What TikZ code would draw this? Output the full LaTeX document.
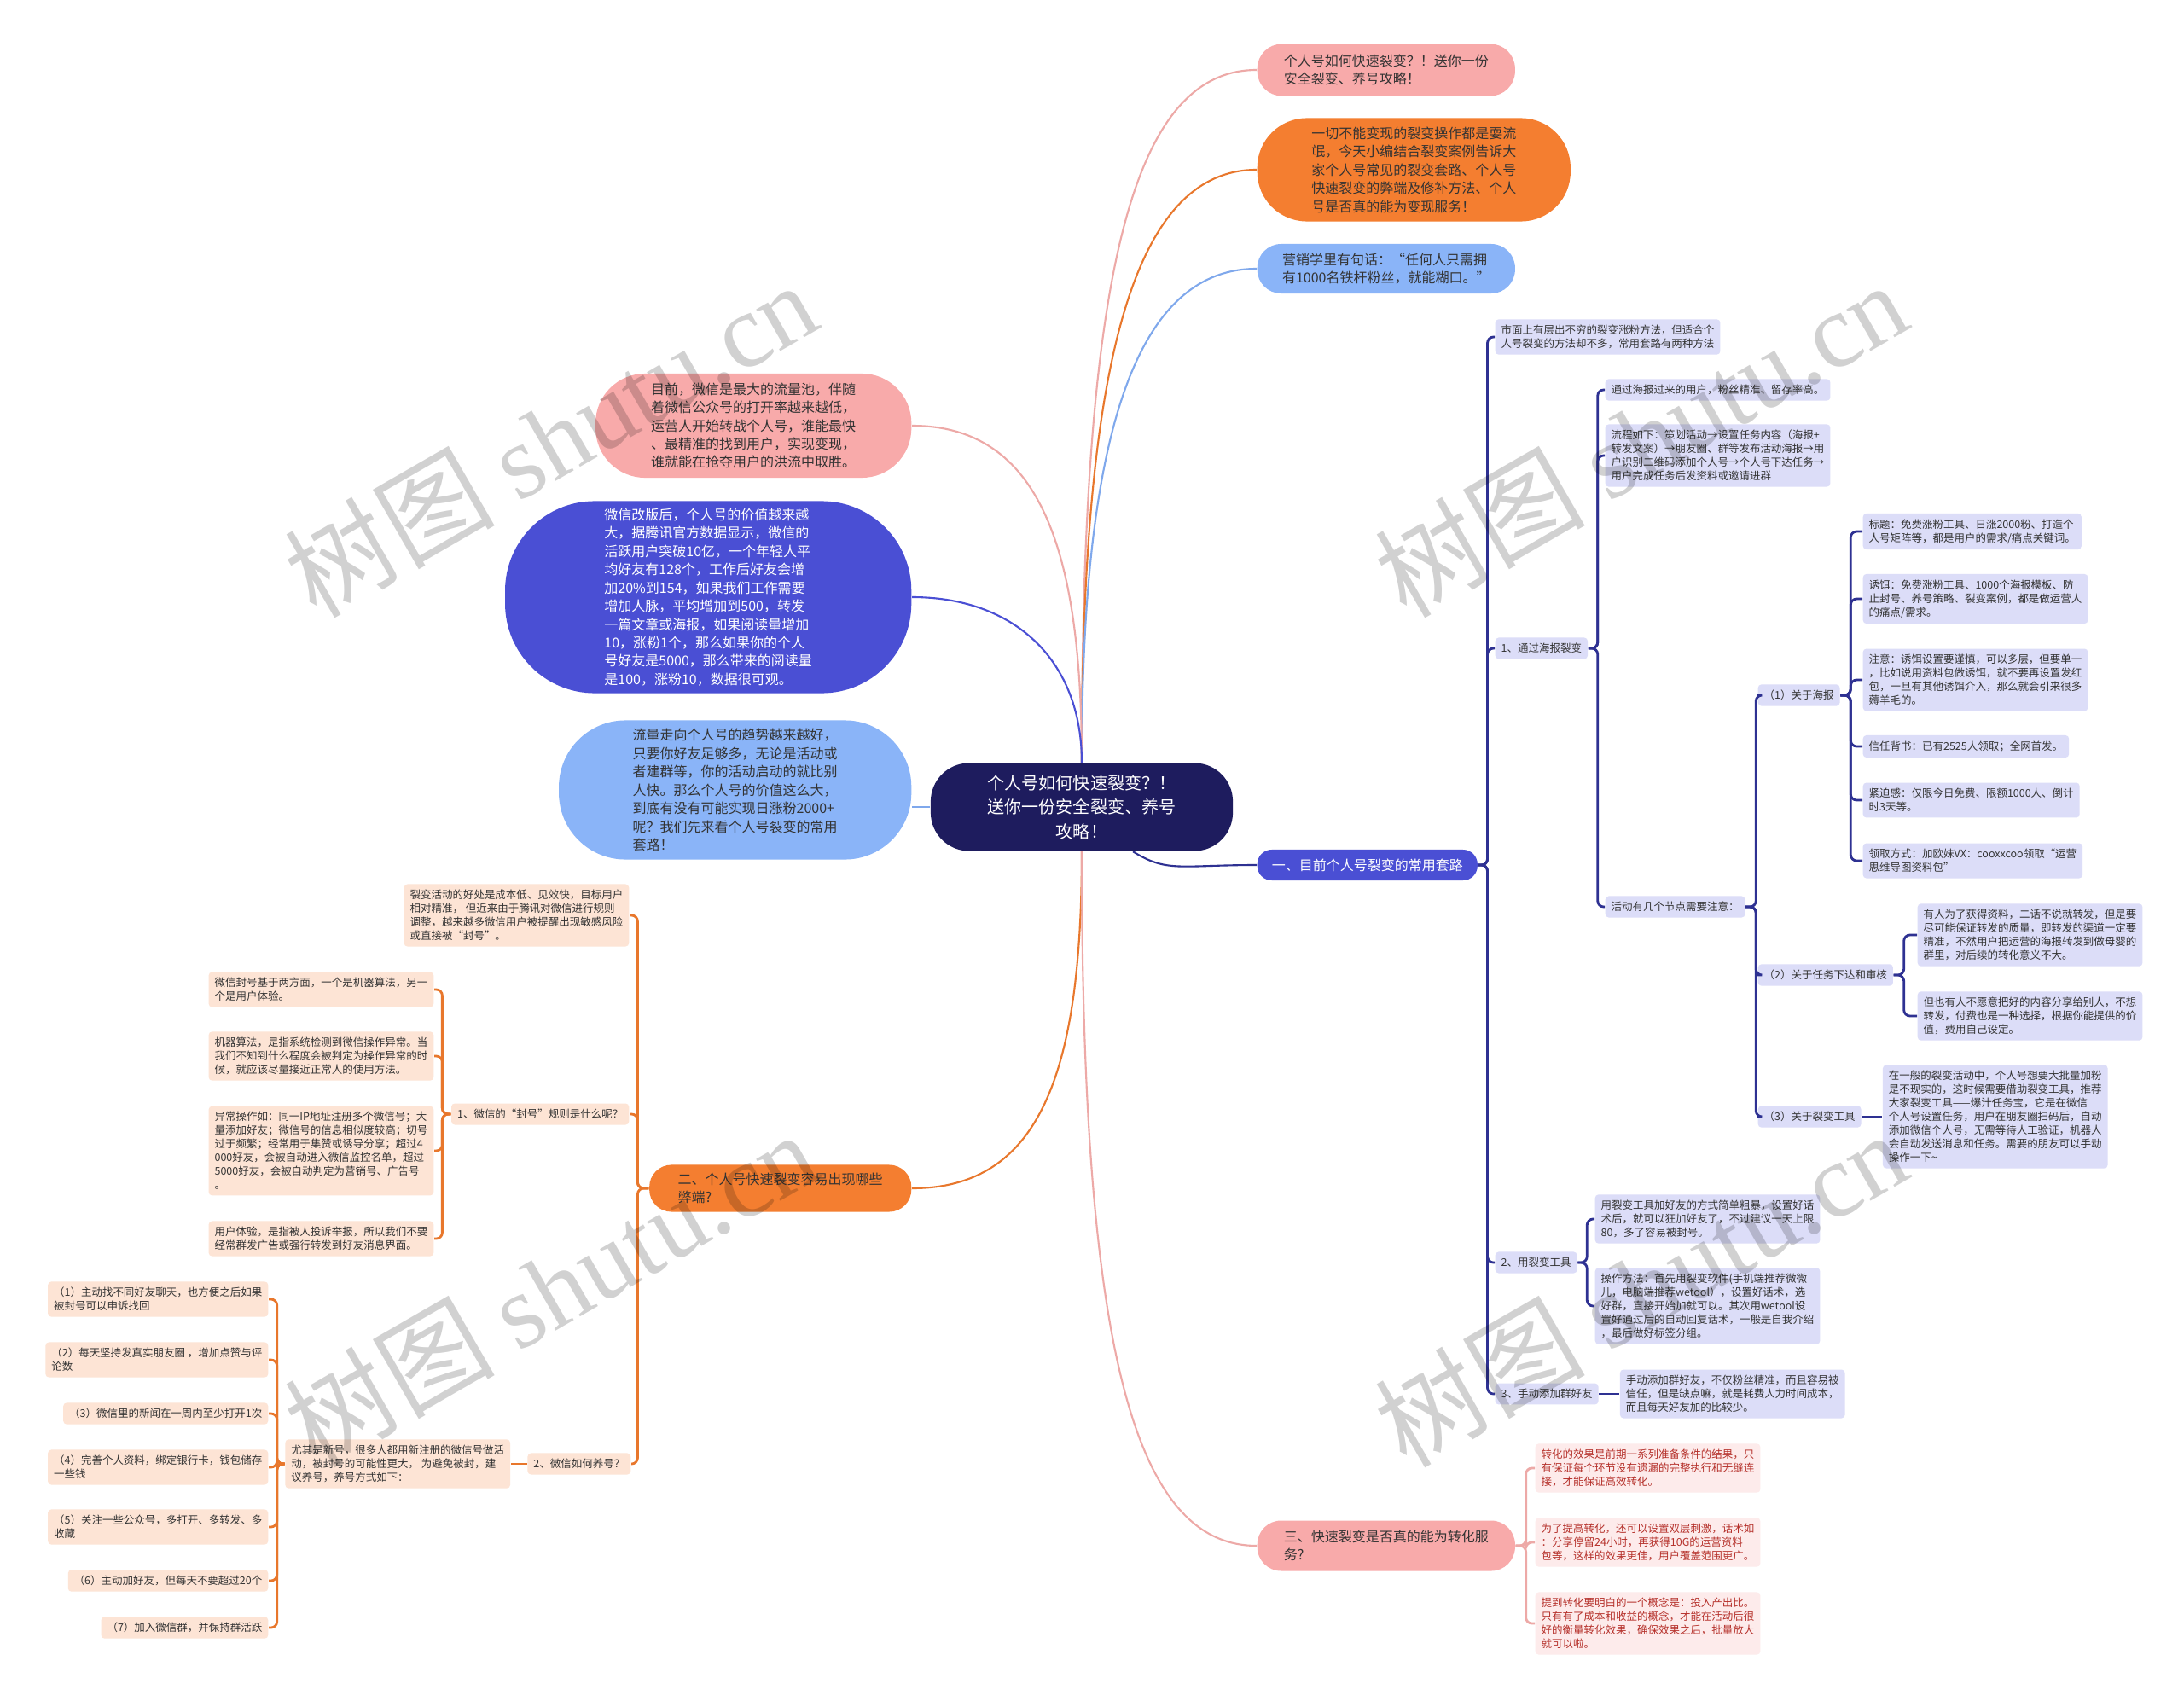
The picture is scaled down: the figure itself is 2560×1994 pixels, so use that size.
\documentclass[tikz,border=0pt]{standalone}
\usepackage{fontspec}
\setmainfont{Noto Sans CJK SC}
\newfontfamily\wmfont{Liberation Serif}
\usetikzlibrary{positioning}
\definecolor{Navy}{HTML}{1E1C5E}
\definecolor{Indigo}{HTML}{4A4FD4}
\definecolor{Lilac}{HTML}{DCDDF8}
\definecolor{LinkNavy}{HTML}{2E3192}
\definecolor{Orange}{HTML}{F47E30}
\definecolor{OrangeLink}{HTML}{E8772C}
\definecolor{Peach}{HTML}{FDE4D5}
\definecolor{Rose}{HTML}{F8AAAA}
\definecolor{RoseLink}{HTML}{EDA9A7}
\definecolor{Blush}{HTML}{FDEBEB}
\definecolor{Crimson}{HTML}{B5302A}
\definecolor{Sky}{HTML}{8AB4F8}
\definecolor{SkyLink}{HTML}{7FA8EC}
\definecolor{Ink}{HTML}{333333}

\begin{document}
\begin{tikzpicture}[
  x=0.01cm, y=-0.01cm,
  hub/.style={fill=Navy,text=white,rounded corners=0.45cm,align=center,minimum width=3.54cm,minimum height=1.03cm,font=\fontsize{5.7pt}{8.1pt}\selectfont},
  bubble/.style={text=Ink,align=left,inner sep=0pt,font=\fontsize{4.55pt}{6.1pt}\selectfont},
  leaf/.style={fill=Lilac,text=Ink,rounded corners=0.04cm,align=left,inner xsep=0.07cm,inner ysep=0.067cm,font=\fontsize{3.55pt}{4.55pt}\selectfont},
  leafo/.style={leaf,fill=Peach},
  leafp/.style={leaf,fill=Blush,text=Crimson},
  curve/.style={line width=0.6pt},
  link/.style={draw=LinkNavy,line width=0.8pt,rounded corners=2pt},
  linko/.style={link,draw=OrangeLink},
  linkp/.style={link,draw=RoseLink},
  stamp/.style={text=black,text opacity=0.18,rotate=30,font=\fontsize{35pt}{35pt}\selectfont}
]
\path[fill=white,use as bounding box] (0,0) rectangle (2560,1994);

\node[hub] (C) at (1268,946) {个人号如何快速裂变？！\\送你一份安全裂变、养号\\攻略！};

\node[bubble,fill=Rose,rounded corners=0.29cm,minimum width=3.02cm,minimum height=0.61cm,anchor=west] (T1) at (1473,82) {个人号如何快速裂变？！送你一份\\安全裂变、养号攻略！};
\node[bubble,fill=Orange,rounded corners=0.58cm,minimum width=3.67cm,minimum height=1.21cm,anchor=west] (T2) at (1473,199) {一切不能变现的裂变操作都是耍流\\氓，今天小编结合裂变案例告诉大\\家个人号常见的裂变套路、个人号\\快速裂变的弊端及修补方法、个人\\号是否真的能为变现服务！};
\node[bubble,fill=Sky,rounded corners=0.28cm,minimum width=3.02cm,minimum height=0.58cm,anchor=west] (T3) at (1473,315) {营销学里有句话：“任何人只需拥\\有1000名铁杆粉丝，就能糊口。”};

\node[bubble,fill=Rose,rounded corners=0.58cm,minimum width=3.70cm,minimum height=1.22cm,anchor=east] (L1) at (1069,499) {目前，微信是最大的流量池，伴随\\着微信公众号的打开率越来越低，\\运营人开始转战个人号，谁能最快\\、最精准的找到用户，实现变现，\\谁就能在抢夺用户的洪流中取胜。};
\node[bubble,fill=Indigo,text=white,rounded corners=1.05cm,minimum width=4.76cm,minimum height=2.25cm,anchor=east] (L2) at (1069,700) {微信改版后，个人号的价值越来越\\大，据腾讯官方数据显示，微信的\\活跃用户突破10亿，一个年轻人平\\均好友有128个，工作后好友会增\\加20\%到154，如果我们工作需要\\增加人脉，平均增加到500，转发\\一篇文章或海报，如果阅读量增加\\10，涨粉1个，那么如果你的个人\\号好友是5000，那么带来的阅读量\\是100，涨粉10，数据很可观。};
\node[bubble,fill=Sky,rounded corners=0.78cm,minimum width=4.13cm,minimum height=1.63cm,anchor=east] (L3) at (1069,926) {流量走向个人号的趋势越来越好，\\只要你好友足够多，无论是活动或\\者建群等，你的活动启动的就比别\\人快。那么个人号的价值这么大，\\到底有没有可能实现日涨粉2000+\\呢？我们先来看个人号裂变的常用\\套路！};

\node[bubble,fill=Indigo,text=white,rounded corners=0.17cm,minimum width=2.58cm,minimum height=0.36cm,anchor=west] (br1) at (1473,1014) {一、目前个人号裂变的常用套路};
\node[bubble,fill=Orange,rounded corners=0.26cm,minimum width=3.07cm,minimum height=0.55cm,anchor=east] (br2) at (1069,1393) {二、个人号快速裂变容易出现哪些\\弊端?};
\node[bubble,fill=Rose,rounded corners=0.28cm,minimum width=3.02cm,minimum height=0.59cm,anchor=west] (br3) at (1473,1812) {三、快速裂变是否真的能为转化服\\务?};

\node[leaf,anchor=west] (A0) at (1752,395) {市面上有层出不穷的裂变涨粉方法，但适合个\\人号裂变的方法却不多，常用套路有两种方法};
\node[leaf,anchor=west] (A1) at (1752,760) {1、通过海报裂变};
\node[leaf,anchor=west] (A2) at (1752,1480) {2、用裂变工具};
\node[leaf,anchor=west] (A3) at (1752,1634) {3、手动添加群好友};

\node[leaf,anchor=west] (B1) at (1881,457) {通过海报过来的用户，粉丝精准、留存率高。};
\node[leaf,anchor=west] (B2) at (1881,534) {流程如下：策划活动→设置任务内容（海报+\\转发文案）→朋友圈、群等发布活动海报→用\\户识别二维码添加个人号→个人号下达任务→\\用户完成任务后发资料或邀请进群};
\node[leaf,anchor=west] (B3) at (1881,1063) {活动有几个节点需要注意：};

\node[leaf,anchor=west] (C1) at (2060,815) {（1）关于海报};
\node[leaf,anchor=west] (C2) at (2060,1143) {（2）关于任务下达和审核};
\node[leaf,anchor=west] (C3) at (2060,1309) {（3）关于裂变工具};

\node[leaf,anchor=west] (D1) at (2183,623) {标题：免费涨粉工具、日涨2000粉、打造个\\人号矩阵等，都是用户的需求/痛点关键词。};
\node[leaf,anchor=west] (D2) at (2183,702) {诱饵：免费涨粉工具、1000个海报模板、防\\止封号、养号策略、裂变案例，都是做运营人\\的痛点/需求。};
\node[leaf,anchor=west] (D3) at (2183,797) {注意：诱饵设置要谨慎，可以多层，但要单一\\，比如说用资料包做诱饵，就不要再设置发红\\包，一旦有其他诱饵介入，那么就会引来很多\\薅羊毛的。};
\node[leaf,anchor=west] (D4) at (2183,875) {信任背书：已有2525人领取；全网首发。};
\node[leaf,anchor=west] (D5) at (2183,938) {紧迫感：仅限今日免费、限额1000人、倒计\\时3天等。};
\node[leaf,anchor=west] (D6) at (2183,1009) {领取方式：加欧妹VX：cooxxcoo领取“运营\\思维导图资料包”};

\node[leaf,anchor=west] (E1) at (2247,1096) {有人为了获得资料，二话不说就转发，但是要\\尽可能保证转发的质量，即转发的渠道一定要\\精准，不然用户把运营的海报转发到做母婴的\\群里，对后续的转化意义不大。};
\node[leaf,anchor=west] (E2) at (2247,1191) {但也有人不愿意把好的内容分享给别人，不想\\转发，付费也是一种选择，根据你能提供的价\\值，费用自己设定。};
\node[leaf,right=0.24cm of C3] (F1) {在一般的裂变活动中，个人号想要大批量加粉\\是不现实的，这时候需要借助裂变工具，推荐\\大家裂变工具——爆汁任务宝，它是在微信\\个人号设置任务，用户在朋友圈扫码后，自动\\添加微信个人号，无需等待人工验证，机器人\\会自动发送消息和任务。需要的朋友可以手动\\操作一下\textasciitilde};

\node[leaf,anchor=west] (G1) at (1869,1429) {用裂变工具加好友的方式简单粗暴，设置好话\\术后，就可以狂加好友了，不过建议一天上限\\80，多了容易被封号。};
\node[leaf,anchor=west] (G2) at (1869,1531) {操作方法：首先用裂变软件(手机端推荐微微\\儿，电脑端推荐wetool），设置好话术，选\\好群，直接开始加就可以。其次用wetool设\\置好通过后的自动回复话术，一般是自我介绍\\，最后做好标签分组。};
\node[leaf,right=0.24cm of A3] (H1) {手动添加群好友，不仅粉丝精准，而且容易被\\信任，但是缺点嘛，就是耗费人力时间成本，\\而且每天好友加的比较少。};

\node[leafp,anchor=west] (P1) at (1799,1721) {转化的效果是前期一系列准备条件的结果，只\\有保证每个环节没有遗漏的完整执行和无缝连\\接，才能保证高效转化。};
\node[leafp,anchor=west] (P2) at (1799,1808) {为了提高转化，还可以设置双层刺激，话术如\\：分享停留24小时，再获得10G的运营资料\\包等，这样的效果更佳，用户覆盖范围更广。};
\node[leafp,anchor=west] (P3) at (1799,1903) {提到转化要明白的一个概念是：投入产出比。\\只有有了成本和收益的概念，才能在活动后很\\好的衡量转化效果，确保效果之后，批量放大\\就可以啦。};

\node[leafo,anchor=east] (Q0) at (738,1073) {裂变活动的好处是成本低、见效快，目标用户\\相对精准， 但近来由于腾讯对微信进行规则\\调整，越来越多微信用户被提醒出现敏感风险\\或直接被“封号”。};
\node[leafo,anchor=east] (Q1) at (738,1306) {1、微信的“封号”规则是什么呢？};
\node[leafo,anchor=east] (Q2) at (740,1716) {2、微信如何养号？};

\node[leafo,anchor=east] (R1) at (509,1160) {微信封号基于两方面，一个是机器算法，另一\\个是用户体验。};
\node[leafo,anchor=east] (R2) at (509,1238) {机器算法，是指系统检测到微信操作异常。当\\我们不知到什么程度会被判定为操作异常的时\\候，就应该尽量接近正常人的使用方法。};
\node[leafo,anchor=east] (R3) at (509,1349) {异常操作如：同一IP地址注册多个微信号；大\\量添加好友；微信号的信息相似度较高；切号\\过于频繁；经常用于集赞或诱导分享；超过4\\000好友，会被自动进入微信监控名单，超过\\5000好友，会被自动判定为营销号、广告号\\。};
\node[leafo,anchor=east] (R4) at (509,1452) {用户体验，是指被人投诉举报，所以我们不要\\经常群发广告或强行转发到好友消息界面。};

\node[leafo,left=0.19cm of Q2] (S0) {尤其是新号，很多人都用新注册的微信号做活\\动，被封号的可能性更大， 为避免被封，建\\议养号，养号方式如下：};
\node[leafo,anchor=east] (S1) at (315,1523) {（1）主动找不同好友聊天，也方便之后如果\\被封号可以申诉找回};
\node[leafo,anchor=east] (S2) at (315,1594) {（2）每天坚持发真实朋友圈 ，增加点赞与评\\论数};
\node[leafo,anchor=east] (S3) at (315,1657) {（3）微信里的新闻在一周内至少打开1次};
\node[leafo,anchor=east] (S4) at (315,1720) {（4）完善个人资料，绑定银行卡，钱包储存\\一些钱};
\node[leafo,anchor=east] (S5) at (315,1790) {（5）关注一些公众号，多打开、多转发、多\\收藏};
\node[leafo,anchor=east] (S6) at (315,1853) {（6）主动加好友，但每天不要超过20个};
\node[leafo,anchor=east] (S7) at (315,1908) {（7）加入微信群，并保持群活跃};

\draw[curve,draw=RoseLink] (C.north) .. controls +(0,-560) and +(-150,0) .. (T1.west);
\draw[curve,draw=OrangeLink] (C.north) .. controls +(0,-450) and +(-150,0) .. (T2.west);
\draw[curve,draw=SkyLink] (C.north) .. controls +(0,-360) and +(-150,0) .. (T3.west);
\draw[curve,draw=RoseLink] (C.north) .. controls +(0,-250) and +(150,0) .. (L1.east);
\draw[curve,draw=Indigo] (C.north) .. controls +(0,-120) and +(120,0) .. (L2.east);
\draw[curve,draw=SkyLink] (C.west) -- (C.west -| L3.east);
\draw[curve,draw=LinkNavy] ([xshift=0.6cm]C.south) .. controls +(40,25) and +(-90,0) .. (br1.west);
\draw[curve,draw=OrangeLink] (C.south) .. controls +(0,260) and +(150,0) .. (br2.east);
\draw[curve,draw=RoseLink] (C.south) .. controls +(0,560) and +(-150,0) .. (br3.west);

\draw[link] (br1.east) -- ++(11,0) |- (A0.west);
\draw[link] (br1.east) -- ++(11,0) |- (A1.west);
\draw[link] (br1.east) -- ++(11,0) |- (A2.west);
\draw[link] (br1.east) -- ++(11,0) |- (A3.west);
\draw[link] (A1.east) -- ++(11,0) |- (B1.west);
\draw[link] (A1.east) -- ++(11,0) |- (B2.west);
\draw[link] (A1.east) -- ++(11,0) |- (B3.west);
\draw[link] (B3.east) -- ++(12,0) |- (C1.west);
\draw[link] (B3.east) -- ++(12,0) |- (C2.west);
\draw[link] (B3.east) -- ++(12,0) |- (C3.west);
\draw[link] (C1.east) -- ++(12,0) |- (D1.west);
\draw[link] (C1.east) -- ++(12,0) |- (D2.west);
\draw[link] (C1.east) -- ++(12,0) |- (D3.west);
\draw[link] (C1.east) -- ++(12,0) |- (D4.west);
\draw[link] (C1.east) -- ++(12,0) |- (D5.west);
\draw[link] (C1.east) -- ++(12,0) |- (D6.west);
\draw[link] (C2.east) -- ++(12,0) |- (E1.west);
\draw[link] (C2.east) -- ++(12,0) |- (E2.west);
\draw[link] (C3.east) -- (F1.west);
\draw[link] (A2.east) -- ++(11,0) |- (G1.west);
\draw[link] (A2.east) -- ++(11,0) |- (G2.west);
\draw[link] (A3.east) -- (H1.west);
\draw[linkp] (br3.east) -- ++(12,0) |- (P1.west);
\draw[linkp] (br3.east) -- ++(12,0) |- (P2.west);
\draw[linkp] (br3.east) -- ++(12,0) |- (P3.west);
\draw[linko] (br2.west) -- ++(-13,0) |- (Q0.east);
\draw[linko] (br2.west) -- ++(-13,0) |- (Q1.east);
\draw[linko] (br2.west) -- ++(-13,0) |- (Q2.east);
\draw[linko] (Q1.west) -- ++(-10,0) |- (R1.east);
\draw[linko] (Q1.west) -- ++(-10,0) |- (R2.east);
\draw[linko] (Q1.west) -- ++(-10,0) |- (R3.east);
\draw[linko] (Q1.west) -- ++(-10,0) |- (R4.east);
\draw[linko] (Q2.west) -- (S0.east);
\draw[linko] (S0.west) -- ++(-9,0) |- (S1.east);
\draw[linko] (S0.west) -- ++(-9,0) |- (S2.east);
\draw[linko] (S0.west) -- ++(-9,0) |- (S3.east);
\draw[linko] (S0.west) -- ++(-9,0) |- (S4.east);
\draw[linko] (S0.west) -- ++(-9,0) |- (S5.east);
\draw[linko] (S0.west) -- ++(-9,0) |- (S6.east);
\draw[linko] (S0.west) -- ++(-9,0) |- (S7.east);

\node[stamp] (wm1) at (645,514) {树图 {\wmfont shutu.cn}};
\node[stamp] (wm2) at (1923,514) {树图 {\wmfont shutu.cn}};
\node[stamp] (wm3) at (645,1510) {树图 {\wmfont shutu.cn}};
\node[stamp] (wm4) at (1923,1510) {树图 {\wmfont shutu.cn}};
\end{tikzpicture}
\end{document}
